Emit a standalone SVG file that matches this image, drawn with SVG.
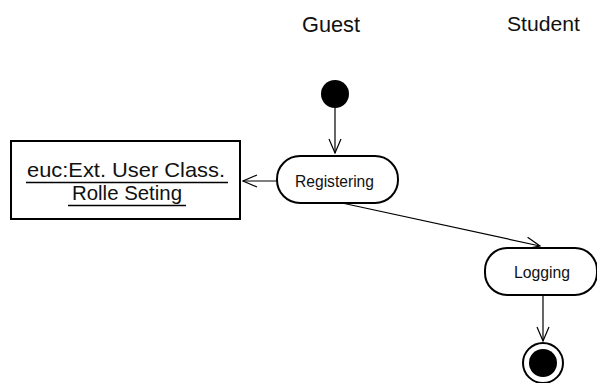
<svg xmlns="http://www.w3.org/2000/svg" width="597" height="383" viewBox="0 0 597 383">
<defs>
<style>
.t{font-family:"Liberation Sans",Arial,sans-serif;fill:#111}
.node{fill:#fff;stroke:#000;stroke-width:2}
.edge{fill:none;stroke:#000;stroke-width:1.2}
</style>
<marker id="open" viewBox="0 0 16 16" refX="15" refY="8" markerWidth="16" markerHeight="16" markerUnits="userSpaceOnUse" orient="auto">
<path d="M1,2 L15,8 L1,14" fill="none" stroke="#000" stroke-width="1.2"/>
</marker>
</defs>
<rect width="597" height="383" fill="#fff"/>
<g id="lane-guest"><text class="t" x="302" y="32" font-size="22" textLength="58" lengthAdjust="spacingAndGlyphs">Guest</text></g>
<g id="lane-student"><text class="t" x="507" y="31" font-size="21" textLength="73" lengthAdjust="spacingAndGlyphs">Student</text></g>
<g id="connectors">
<line class="edge" x1="335" y1="108" x2="335" y2="153" marker-end="url(#open)"/>
<line class="edge" x1="277" y1="181" x2="243" y2="181" marker-end="url(#open)"/>
<line class="edge" x1="342" y1="203" x2="540" y2="246" marker-end="url(#open)"/>
<line class="edge" x1="543" y1="295" x2="543" y2="341" marker-end="url(#open)"/>
</g>
<g id="start"><circle cx="335" cy="94" r="14" fill="#000"/></g>
<g id="registering">
<rect class="node" x="277" y="156" width="121" height="47" rx="23" ry="23"/>
<text class="t" x="295" y="187" font-size="16" textLength="79" lengthAdjust="spacingAndGlyphs">Registering</text>
</g>
<g id="object">
<rect class="node" x="11" y="141" width="229" height="78"/>
<text class="t" x="27" y="177" font-size="21" textLength="198" lengthAdjust="spacingAndGlyphs">euc:Ext. User Class.</text>
<line x1="26" y1="182.5" x2="228" y2="182.5" stroke="#000" stroke-width="1.3"/>
<text class="t" x="72" y="200" font-size="21" textLength="110" lengthAdjust="spacingAndGlyphs">Rolle Seting</text>
<line x1="68" y1="205.5" x2="186" y2="205.5" stroke="#000" stroke-width="1.3"/>
</g>
<g id="logging">
<rect class="node" x="485" y="248" width="112" height="47" rx="22" ry="22"/>
<text class="t" x="514" y="278" font-size="16" textLength="56" lengthAdjust="spacingAndGlyphs">Logging</text>
</g>
<g id="end">
<circle cx="543" cy="363" r="20" fill="#fff" stroke="#000" stroke-width="2"/>
<circle cx="543" cy="363" r="14" fill="#000"/>
</g>
</svg>
